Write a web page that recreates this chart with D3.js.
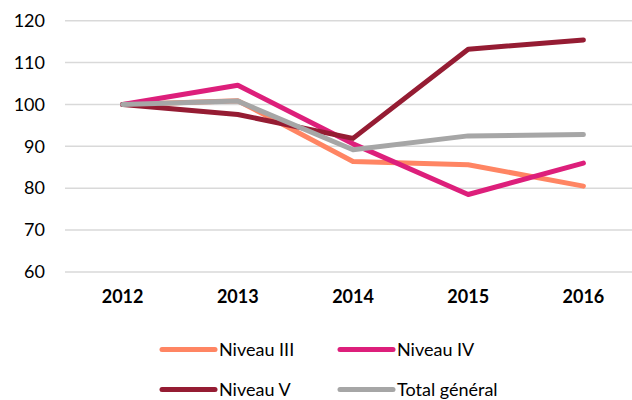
<!DOCTYPE html>
<html>
<head>
<meta charset="utf-8">
<script src="https://cdn.jsdelivr.net/npm/d3@7"></script>
<style>
  body { margin: 0; background: #fff; }
  text { font-family: Lato, "Open Sans", sans-serif; fill: #000; }
</style>
</head>
<body>
<div id="chart"></div>
<script>
// data
var years = ["2012", "2013", "2014", "2015", "2016"];
var niveauIII = [100, 100.9, 86.4, 85.6, 80.5];
var niveauIV = [100, 104.6, 90.6, 78.5, 86.0];
var niveauV = [100, 97.6, 91.9, 113.2, 115.4];
var totalGeneral = [100, 100.8, 89.2, 92.5, 92.8];
var yTicks = [60, 70, 80, 90, 100, 110, 120];

var series = [
  {name: "Niveau III", values: niveauIII, color: "#FF8563"},
  {name: "Niveau IV", values: niveauIV, color: "#DD1F7B"},
  {name: "Niveau V", values: niveauV, color: "#951C33"},
  {name: "Total général", values: totalGeneral, color: "#A6A6A6"}
];

var W = 632, H = 400;

var svg = d3.select("#chart")
  .append("svg")
    .attr("width", W)
    .attr("height", H);

// scales
var x = d3.scaleBand()
  .domain(years)
  .range([65, 641]);

var y = d3.scaleLinear()
  .domain([60, 120])
  .range([272, 20.7]);

// gridlines
svg.append("g")
  .selectAll("line")
  .data(yTicks)
  .enter()
  .append("line")
    .attr("x1", 65)
    .attr("x2", W)
    .attr("y1", function(d) { return y(d); })
    .attr("y2", function(d) { return y(d); })
    .attr("stroke", "#D9D9D9")
    .attr("stroke-width", 1.5);

// y axis labels
var yAxis = svg.append("g")
  .attr("transform", "translate(52,0)")
  .call(d3.axisLeft(y).tickValues(yTicks).tickSize(0).tickPadding(7));
yAxis.select(".domain").remove();
yAxis.selectAll("text")
  .style("font-family", "Lato, sans-serif")
  .style("font-size", "18px")
  .attr("fill", "#000");

// x axis labels
var xAxis = svg.append("g")
  .attr("transform", "translate(0,285)")
  .call(d3.axisBottom(x).tickSize(0).tickPadding(0));
xAxis.select(".domain").remove();
xAxis.selectAll("text")
  .style("font-family", "Lato, sans-serif")
  .style("font-size", "18px")
  .style("font-weight", "bold")
  .attr("fill", "#000")
  .attr("dy", "1em");

// lines
var line = d3.line()
  .x(function(d, i) { return x(years[i]) + x.bandwidth() / 2; })
  .y(function(d) { return y(d); });

svg.append("g")
  .selectAll("path")
  .data(series)
  .enter()
  .append("path")
    .attr("d", function(d) { return line(d.values); })
    .attr("fill", "none")
    .attr("stroke", function(d) { return d.color; })
    .attr("stroke-width", 5)
    .attr("stroke-linejoin", "round")
    .attr("stroke-linecap", "round");

// legend (2 x 2)
var legend = svg.append("g")
  .selectAll("g")
  .data(series)
  .enter()
  .append("g")
    .attr("transform", function(d, i) {
      return "translate(" + (i % 2 === 0 ? 162 : 340) + "," + (i < 2 ? 349.5 : 389.5) + ")";
    });

legend.append("line")
  .attr("x1", 0)
  .attr("x2", 53)
  .attr("stroke", function(d) { return d.color; })
  .attr("stroke-width", 5)
  .attr("stroke-linecap", "round");

legend.append("text")
  .attr("x", 57)
  .attr("y", 6.5)
  .style("font-size", "18px")
  .text(function(d) { return d.name; });
</script>
</body>
</html>
